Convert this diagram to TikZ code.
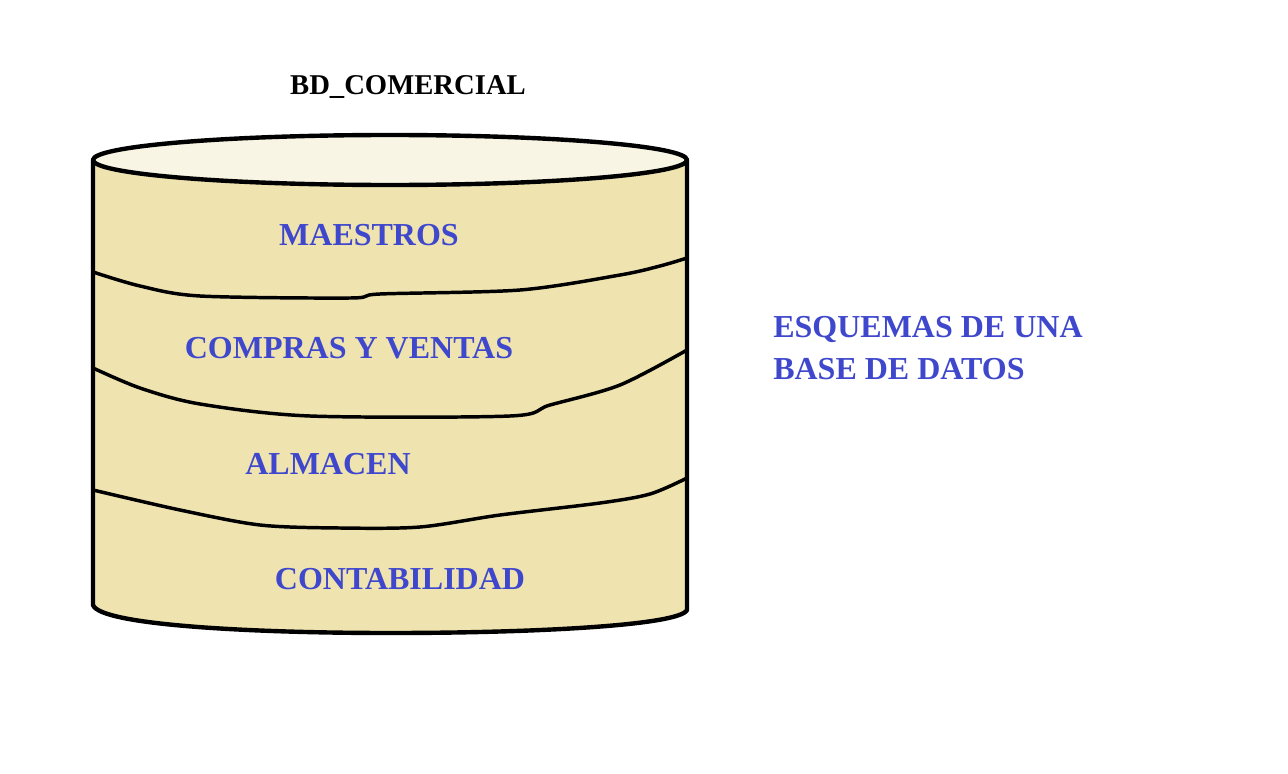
\documentclass[tikz,border=0pt]{standalone}
\usepackage{fontspec}
\setmainfont{Liberation Serif}
\usepackage{tikz}
\definecolor{tan}{RGB}{239, 228, 176}
\definecolor{tapa}{RGB}{249, 245, 228}
\definecolor{indigo}{RGB}{63, 72, 204}
\begin{document}
\begin{tikzpicture}[x=0.75pt,y=-0.75pt,every node/.style={font=\fontsize{24}{32}\selectfont\bfseries},
  esquema/.style={text=indigo},
  borde/.style={line width=3.3pt,line join=round,line cap=round},
  corte/.style={line width=2.6pt,line join=round,line cap=round}]
  \useasboundingbox (0, 0) rectangle (1288, 774);

  % cuerpo del cilindro
  \draw[borde, fill=tan] (93, 160) -- (93, 605)
    .. controls (100, 625) and (250, 633) .. (390, 633)
    .. controls (540, 633) and (680, 625) .. (687, 610) -- (687, 160);
  \draw[borde, fill=tapa] (390, 160) ellipse [x radius=297, y radius=25];

  % separaciones
  \draw[corte] plot[smooth, tension=0.5] coordinates {(93, 272) (140, 286) (200, 296) (350, 298) (380, 294) (520, 290) (620, 275) (660, 266) (687, 258)};
  \draw[corte] plot[smooth, tension=0.5] coordinates {(93, 368) (140, 388) (200, 404) (310, 416) (510, 416) (550, 405) (620, 385) (687, 350)};
  \draw[corte] plot[smooth, tension=0.5] coordinates {(93, 490) (180, 510) (260, 525) (340, 528) (420, 527) (500, 515) (600, 503) (650, 494) (687, 478)};

  % textos
  \node[font=\fontsize{21.5}{26}\selectfont\bfseries] (bd) at (408, 87) {BD\_COMERCIAL};
  \node[esquema] (maestros) at (369, 235) {MAESTROS};
  \node[esquema] (compras) at (349, 348) {COMPRAS Y VENTAS};
  \node[esquema] (almacen) at (328, 464) {ALMACEN};
  \node[esquema] (conta) at (400, 579) {CONTABILIDAD};
  \node[esquema, anchor=west, align=left, inner sep=0pt] (desc) at (773, 348) {ESQUEMAS DE UNA\\BASE DE DATOS};
\end{tikzpicture}
\end{document}
